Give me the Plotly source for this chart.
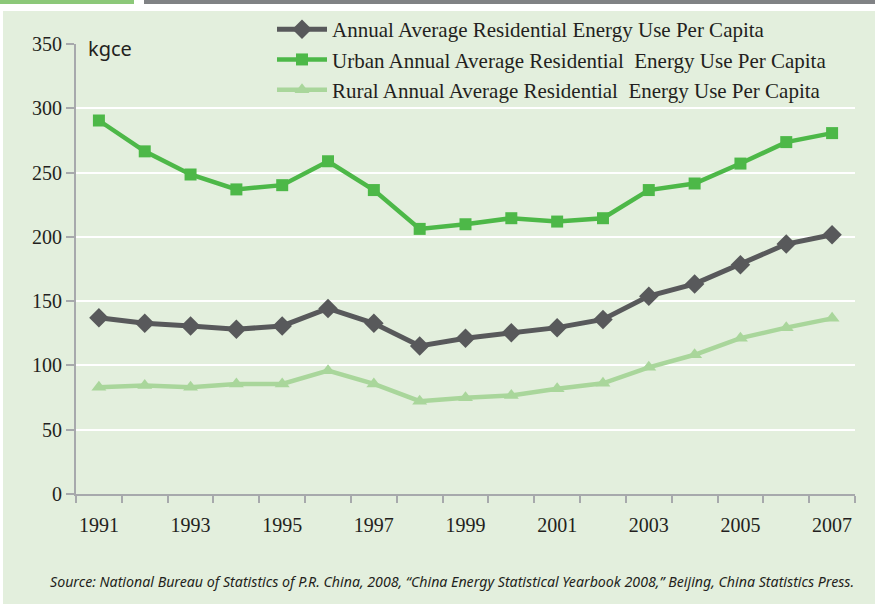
import plotly.graph_objects as go

years = list(range(1991, 2008))
total = [137.1, 132.8, 130.7, 128.1, 130.7, 144.3, 132.8, 115.2, 121.2, 125.5,
         129.4, 135.8, 153.9, 163.4, 178.4, 194.4, 201.6]
urban = [290.5, 266.5, 248.5, 236.9, 240.2, 258.8, 236.4, 206.2, 209.8, 214.5,
         211.9, 214.5, 236.4, 241.5, 257.0, 273.7, 280.7]
rural = [83.0, 84.3, 83.0, 85.6, 85.6, 95.9, 85.6, 72.2, 74.8, 76.6,
         81.8, 86.1, 98.5, 108.3, 121.2, 129.4, 136.6]
xlabels = [str(y) for y in years if y % 2 == 1]
yticks = [0, 50, 100, 150, 200, 250, 300, 350]

names = ["Annual Average Residential Energy Use Per Capita",
         "Urban Annual Average Residential  Energy Use Per Capita",
         "Rural Annual Average Residential  Energy Use Per Capita"]

W, H = 875, 604
L, R, T, B = 76, 855, 44, 494

def px(x):
    return (x - L) / (R - L)

def py(y):
    return (B - y) / (B - T)

fig = go.Figure()
fig.add_trace(go.Scatter(x=years, y=total, name=names[0], mode="lines+markers",
                         line=dict(color="#58595b", width=5),
                         marker=dict(symbol="diamond", size=15, color="#58595b"),
                         legendgroup="a"))
fig.add_trace(go.Scatter(x=years, y=urban, name=names[1], mode="lines+markers",
                         line=dict(color="#4db848", width=4.5),
                         marker=dict(symbol="square", size=12, color="#4db848"),
                         legendgroup="b"))
fig.add_trace(go.Scatter(x=years, y=rural, name=names[2], mode="lines+markers",
                         line=dict(color="#a9d69b", width=4.5),
                         marker=dict(symbol="triangle-up", size=13, color="#a9d69b"),
                         legendgroup="c"))

shapes = [
    dict(type="rect", xref="paper", yref="paper", x0=px(3), x1=px(875), y0=py(604), y1=py(11),
         fillcolor="#e3efdd", line=dict(width=0), layer="below"),
    dict(type="rect", xref="paper", yref="paper", x0=px(0), x1=px(134), y0=py(4), y1=py(0),
         fillcolor="#8cc879", line=dict(width=0), layer="below"),
    dict(type="rect", xref="paper", yref="paper", x0=px(144), x1=px(875), y0=py(4), y1=py(0),
         fillcolor="#808285", line=dict(width=0), layer="below"),
]

fig.update_layout(
    width=W, height=H,
    margin=dict(l=L, r=W - R, t=T, b=H - B, autoexpand=False),
    paper_bgcolor="white", plot_bgcolor="rgba(0,0,0,0)",
    shapes=shapes,
    font=dict(family="Liberation Serif", color="#231f20", size=20),
    showlegend=True,
    legend=dict(x=px(272), y=py(9), xanchor="left", yanchor="top",
                bgcolor="rgba(0,0,0,0)", font=dict(family="Liberation Serif", size=21, color="#231f20"),
                traceorder="grouped", tracegroupgap=0, itemwidth=50),
    xaxis=dict(range=[1990.5, 2007.5], tickmode="array", tickvals=[int(v) for v in xlabels],
               ticktext=xlabels, ticks="", showgrid=False, zeroline=False,
               showline=True, linecolor="#a7a9ac", linewidth=2,
               ticklabelstandoff=12,
               tickfont=dict(family="Liberation Serif", size=20, color="#231f20"),
               minor=dict(tickmode="array", tickvals=[y - 0.5 for y in years] + [2007.5],
                          ticks="outside", ticklen=7, tickwidth=2, tickcolor="#a7a9ac",
                          showgrid=False)),
    yaxis=dict(range=[0, 350], tickmode="array", tickvals=yticks,
               ticks="outside", ticklen=8, tickwidth=2, tickcolor="#a7a9ac",
               showline=True, linecolor="#a7a9ac", linewidth=2,
               showgrid=True, gridcolor="white", gridwidth=2, zeroline=False,
               tickfont=dict(family="Liberation Serif", size=20, color="#231f20")),
    annotations=[
        dict(text="kgce", xref="paper", yref="paper", x=px(86), y=py(49), xanchor="left",
             yanchor="middle", showarrow=False,
             font=dict(family="Noto Sans", size=20, color="#231f20")),
        dict(text="<i>Source: National Bureau of Statistics of P.R. China, 2008, \u201cChina Energy Statistical Yearbook 2008,\u201d Beijing, China Statistics Press.</i>",
             xref="paper", yref="paper", x=px(856), y=py(581), xanchor="right", yanchor="middle",
             showarrow=False, font=dict(family="Noto Sans", size=14.2, color="#231f20")),
    ],
)

fig.write_html("out.html", config={"displayModeBar": False},
               post_script="document.body.style.margin='0';document.body.style.padding='0';")
